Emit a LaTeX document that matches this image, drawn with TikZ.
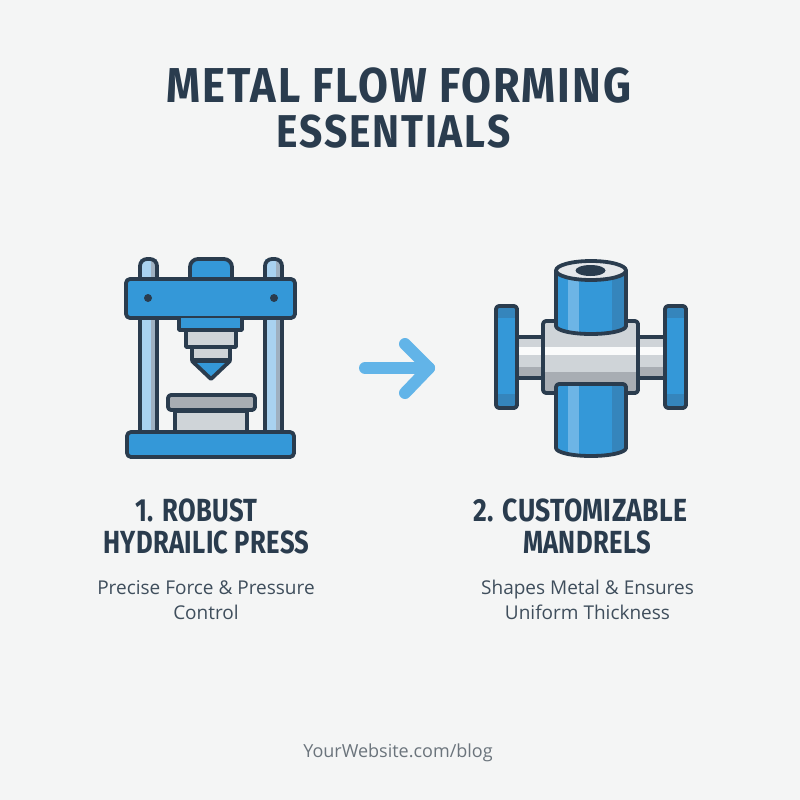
\documentclass[tikz,border=0pt]{standalone}
\usepackage{fontspec}
\setmainfont{Open Sans}
\newfontfamily\headfont[LetterSpace=4,FakeStretch=0.885]{Fira Sans}
\newfontfamily\subfont[LetterSpace=1,FakeStretch=0.8]{Fira Sans}
\newfontfamily\subwidefont[LetterSpace=1,FakeStretch=0.83]{Fira Sans}
\definecolor{ink}{HTML}{2A3C4E}
\definecolor{bluem}{HTML}{3498D8}
\definecolor{blued}{HTML}{3585BC}
\definecolor{bluel}{HTML}{6DB5E6}
\definecolor{arrowc}{HTML}{62B4E8}
\definecolor{grayl}{HTML}{CFD4D8}
\definecolor{graym}{HTML}{A8ADB3}
\definecolor{paper}{HTML}{F4F5F5}
\definecolor{rodl}{HTML}{A9D2F0}
\definecolor{rodd}{HTML}{9FB0C0}
\definecolor{bodyc}{HTML}{3F4E5C}
\definecolor{foot}{HTML}{6B747C}
\tikzset{
 part/.style={draw=ink,line width=3.8pt,line join=round},
 titletext/.style={text=ink,font=\headfont\bfseries\fontsize{49}{49}\selectfont,anchor=base,inner sep=0pt},
 titlesmall/.style={text=ink,font=\headfont\bfseries\fontsize{46}{46}\selectfont,anchor=base,inner sep=0pt},
 subtext/.style={text=ink,font=\subfont\bfseries\fontsize{32}{32}\selectfont,anchor=base,inner sep=0pt},
 subwide/.style={text=ink,font=\subwidefont\bfseries\fontsize{32}{32}\selectfont,anchor=base,inner sep=0pt},
 bodytext/.style={text=bodyc,font=\fontsize{19}{19}\selectfont,anchor=base,inner sep=0pt},
 foottext/.style={text=foot,font=\fontsize{18}{22}\selectfont,anchor=base,inner sep=0pt},
}
\begin{document}
\begin{tikzpicture}[x=1pt,y=-1pt]
\useasboundingbox (0,0) rectangle (800,800);
\fill[paper] (0,0) rectangle (800,800);
\node[titletext] (title1) at (399,102) {METAL FLOW FORMING};
\node[titlesmall] (title2) at (393.5,147.5) {ESSENTIALS};
% press: rods
\foreach \a in {140,265}{
 \fill[rodl] (\a,259) rectangle (\a+17,432);
 \fill[rodd] (\a+11,259) rectangle (\a+17,432);
 \draw[part,rounded corners=7pt] (\a,432) -- (\a,259) -- (\a+17,259) -- (\a+17,432);
}
% press head
\draw[part,fill=bluem,rounded corners=8pt] (190,282) -- (190,259) -- (232,259) -- (232,282);
\draw[part,fill=bluem,rounded corners=4pt] (126,279) rectangle (295,318);
\fill[ink] (148,298) circle (4);
\fill[ink] (274,298) circle (4);
\draw[part,fill=bluem] (179,318) -- (179,330) -- (242,330) -- (242,318);
\draw[part,fill=grayl] (186,330) rectangle (236,347);
\draw[part,fill=grayl] (192,347) rectangle (230,360);
\draw[part,fill=bluem] (192,361) -- (211,379) -- (230,361) -- cycle;
% press lower die
\draw[part,fill=grayl] (175,411) rectangle (247,432);
\draw[part,fill=graym,rounded corners=3pt] (168,395) rectangle (255,410);
\draw[part,fill=bluem,rounded corners=4pt] (127,457) -- (127,432) -- (294,432) -- (294,457) -- cycle;
% arrow
\coordinate (arrowstart) at (365,368);
\coordinate (arrowtip) at (429,368);
\coordinate (arrowup) at (405,344);
\coordinate (arrowdown) at (405,393);
\draw[arrowc,line width=12pt,line cap=round,line join=round] (arrowstart) -- (arrowtip);
\draw[arrowc,line width=12pt,line cap=round,line join=round] (arrowup) -- (arrowtip) -- (arrowdown);
% mandrel: axle
\fill[grayl] (518,336) rectangle (664,378);
\fill[white!90!grayl] (518,347) rectangle (664,355);
\fill[graym] (518,367) rectangle (664,378);
\draw[part] (518,337) -- (664,337) (518,378) -- (664,378);
% flanges
\foreach \a in {496,665}{
 \fill[bluem] (\a,306) rectangle (\a+21,408);
 \fill[blued] (\a,306) rectangle (\a+21,318);
 \fill[blued] (\a,394) rectangle (\a+21,408);
 \draw[part,rounded corners=3pt] (\a,306) rectangle (\a+21,408);
}
% centre
\fill[grayl] (543,321) rectangle (638,393);
\fill[white!90!grayl] (543,347) rectangle (638,355);
\fill[graym] (543,372) rectangle (638,393);
\draw[part,rounded corners=3pt] (543,321) rectangle (638,393);
% top cylinder
\begin{scope}
\clip (555,270) -- (627,270) -- (627,326) arc[start angle=0,end angle=180,x radius=36,y radius=8] -- cycle;
\fill[bluem] (555,270) rectangle (627,340);
\fill[bluel] (568,270) rectangle (579,340);
\fill[blued] (612,270) rectangle (627,340);
\end{scope}
\draw[part] (556,270) -- (556,326) arc[start angle=180,end angle=0,x radius=35,y radius=8] -- (626,270);
\draw[part,fill=grayl!55!white] (591,270.5) ellipse[x radius=35,y radius=9.5];
\fill[ink] (590.5,270.5) ellipse[x radius=15,y radius=5.5];
% bottom cylinder
\begin{scope}
\clip (555,384) -- (627,384) -- (627,448) arc[start angle=0,end angle=180,x radius=36,y radius=8] -- cycle;
\fill[bluem] (555,384) rectangle (627,460);
\fill[bluel] (568,384) rectangle (579,460);
\fill[blued] (612,384) rectangle (627,460);
\end{scope}
\draw[part,rounded corners=3pt] (556,400) -- (556,384) -- (626,384) -- (626,400);
\draw[part] (556,398) -- (556,448) arc[start angle=180,end angle=0,x radius=35,y radius=8] -- (626,398);
% labels
\node[subtext] (lab1a) at (196.5,521) {1. ROBUST};
\node[subtext] (lab1b) at (206.5,553) {HYDRAILIC PRESS};
\node[subwide] (lab2a) at (580.5,521) {2. CUSTOMIZABLE};
\node[subtext] (lab2b) at (587,553) {MANDRELS};
\node[bodytext] (desc1a) at (206,594) {Precise Force \& Pressure};
\node[bodytext] (desc1b) at (206,619) {Control};
\node[bodytext] (desc2a) at (587.5,594) {Shapes Metal \& Ensures};
\node[bodytext] (desc2b) at (587.5,619) {Uniform Thickness};
\node[foottext] (site) at (398,757) {YourWebsite.com/blog};
\end{tikzpicture}
\end{document}
